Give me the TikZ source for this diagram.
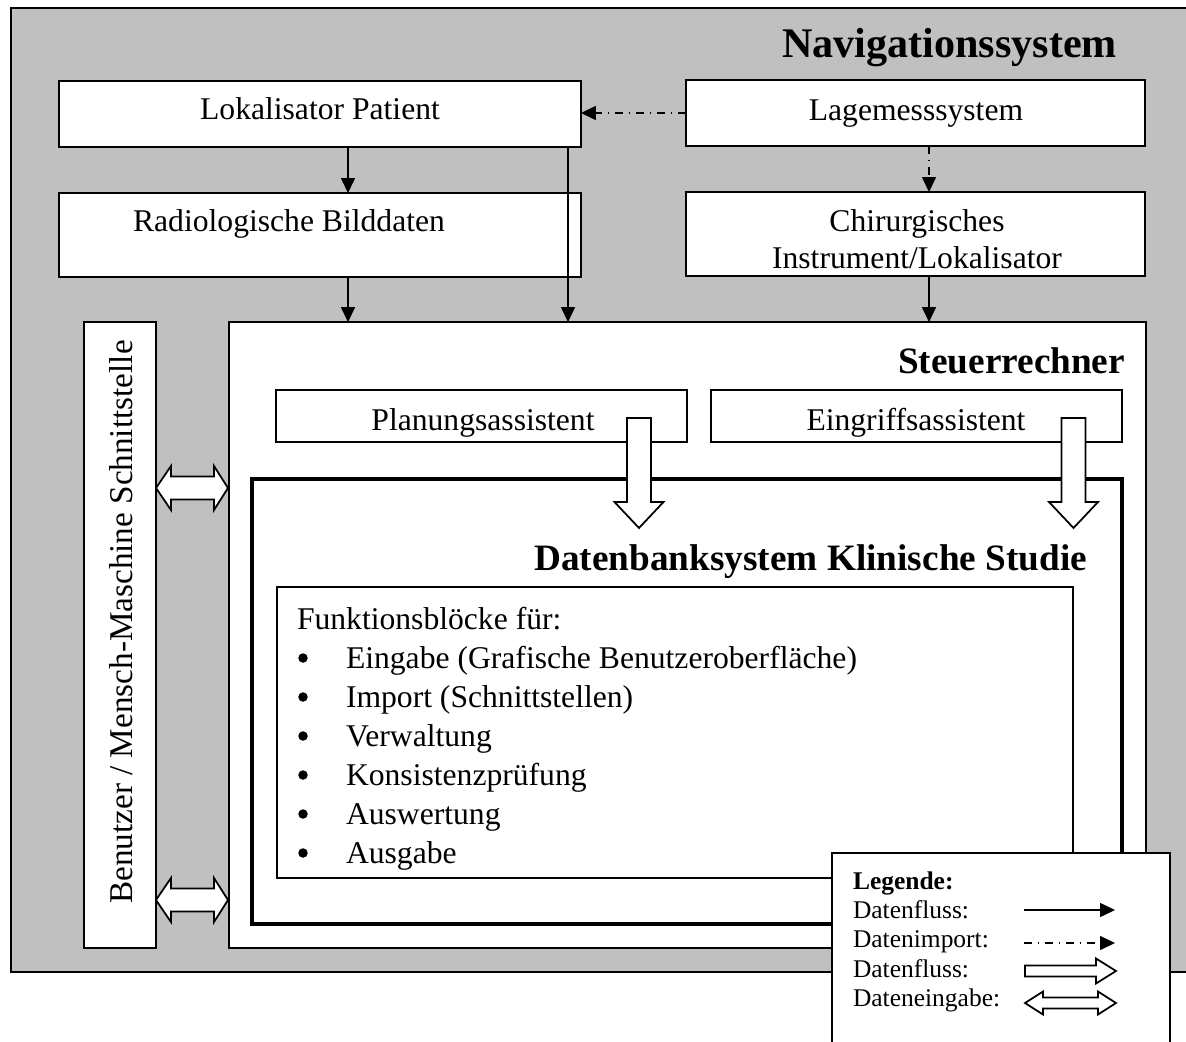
\documentclass[tikz,border=0pt]{standalone}
\usepackage{fontspec}
\setmainfont{Liberation Serif}
\usetikzlibrary{arrows.meta,calc}
\newcommand{\navfont}{\fontsize{18}{21}\selectfont}
\newcommand{\navtitlefont}{\fontsize{24}{28}\selectfont\bfseries}
\newcommand{\navheadfont}{\fontsize{21.2}{25}\selectfont\bfseries}
\newcommand{\navlegfont}{\fontsize{14.5}{16}\selectfont}
\begin{document}
\begin{tikzpicture}[x=0.02cm, y=-0.02cm,
  every node/.style={font=\navfont, inner sep=0pt, outer sep=0pt},
  box/.style={draw, line width=1pt, fill=white},
  flow/.style={line width=0.6pt, -{Triangle[length=8.5pt,width=8pt]}},
  dimport/.style={flow, dash pattern=on 4.5pt off 3.4pt on 0.6pt off 3.4pt},
  block/.style={draw, line width=1pt, fill=white, line join=miter},
  bullet/.style={circle, fill=black, minimum size=0.19cm}]
\definecolor{navgray}{RGB}{192,192,192}
\useasboundingbox (0,0) rectangle (1186,1041);
% Navigationssystem frame
\node[box, fill=navgray, minimum width=23.52cm, minimum height=19.28cm] (nav) at (599,490) {};
\node[font=\navtitlefont, anchor=base east] (navtitle) at (1117,57) {Navigationssystem};
% Upper blocks
\node[box, minimum width=10.44cm, minimum height=1.32cm] (lokpat) at (320,114) {};
\node[anchor=base] (lokpattext) at (320,119) {Lokalisator Patient};
\node[box, minimum width=9.18cm, minimum height=1.32cm] (lagemess) at (915.5,113) {};
\node[anchor=base] (lagemesstext) at (916,120) {Lagemesssystem};
\node[box, minimum width=10.44cm, minimum height=1.68cm] (radio) at (320,235) {};
\node[anchor=base] (radiotext) at (289,231) {Radiologische Bilddaten};
\node[box, minimum width=9.18cm, minimum height=1.68cm] (chir) at (915.5,234) {};
\node[align=center] (chirtext) at (917,239) {Chirurgisches\\Instrument/Lokalisator};
% Steuerrechner and user interface
\node[box, minimum width=18.34cm, minimum height=12.52cm] (steuer) at (687.5,635) {};
\node[font=\navheadfont, anchor=base east] (steuertitle) at (1125,373) {Steuerrechner};
\node[box, minimum width=1.44cm, minimum height=12.52cm] (hmi) at (120,635) {};
\node[rotate=90, font=\fontsize{18.9}{22}\selectfont] (hmitext) at (121,622) {Benutzer / Mensch-Maschine Schnittstelle};
% Assistants (text cut at the lower border)
\node[box, minimum width=8.22cm, minimum height=1.04cm] (plan) at (481.5,416) {};
\node[box, minimum width=8.22cm, minimum height=1.04cm] (eingriff) at (916.5,416) {};
\begin{scope}
  \clip (plan.south west) rectangle (plan.north east);
  \node[anchor=base] (plantext) at (483,430) {Planungsassistent};
\end{scope}
\begin{scope}
  \clip (eingriff.south west) rectangle (eingriff.north east);
  \node[anchor=base] (eingrifftext) at (916,430) {Eingriffsassistent};
\end{scope}
% Datenbanksystem
\node[box, line width=2.4pt, minimum width=17.4cm, minimum height=8.9cm] (dbs) at (687,701.5) {};
\node[font=\navheadfont, anchor=base east] (dbstitle) at (1087,570) {Datenbanksystem Klinische Studie};
\node[box, minimum width=15.92cm, minimum height=5.82cm] (funk) at (675,732.5) {};
\node[anchor=base west] (funktitle) at (297,629) {Funktionsblöcke für:};
\foreach \entry [count=\i] in {Eingabe (Grafische Benutzeroberfläche), Import (Schnittstellen),
  Verwaltung, Konsistenzprüfung, Auswertung, Ausgabe} {
  \node[bullet] (bul\i) at (303,{619+\i*39}) {};
  \node[anchor=base west] (entry\i) at (346,{629+\i*39}) {\entry};
}
% Data flow
\draw[dimport] (lagemess.west) -- (lagemess.west -| lokpat.east);
\draw[flow] ($(lokpat.south)+(28,0)$) -- ($(radio.north)+(28,0)$);
\draw[dimport] ($(lagemess.south)+(13.5,0)$) -- ($(chir.north)+(13.5,0)$);
\coordinate (radioout) at ($(radio.south)+(28,0)$);
\coordinate (lokpatout) at ($(lokpat.south)+(248,0)$);
\coordinate (chirout) at ($(chir.south)+(13.5,0)$);
\draw[flow] (radioout) -- (radioout |- steuer.north);
\draw[flow] (lokpatout) -- (lokpatout |- steuer.north);
\draw[flow] (chirout) -- (chirout |- steuer.north);
% Block arrows into the database
\foreach \cx in {639,1073.5} {
  \draw[block] ({\cx-12},418) -- ({\cx+12},418) -- ({\cx+12},502) -- ({\cx+24.5},502)
    -- (\cx,528) -- ({\cx-24.5},502) -- ({\cx-12},502) -- cycle;
}
% Data input from the user
\foreach \cy in {488,900} {
  \draw[block] (156,\cy) -- (171,{\cy-22}) -- (171,{\cy-11.5}) -- (214,{\cy-11.5})
    -- (214,{\cy-22}) -- (228,\cy) -- (214,{\cy+22}) -- (214,{\cy+11.5})
    -- (171,{\cy+11.5}) -- (171,{\cy+22}) -- cycle;
}
% Legend
\node[box, minimum width=6.76cm, minimum height=3.84cm] (legend) at (1001,949) {};
\node[font=\navlegfont\bfseries, anchor=base west] (legtitle) at (853,889) {Legende:};
\foreach \name/\yb [count=\i] in {Datenfluss:/918, Datenimport:/947, Datenfluss:/977, Dateneingabe:/1006} {
  \node[font=\navlegfont, anchor=base west] (leg\i) at (853,\yb) {\name};
}
\coordinate (legflow) at (1024,910);
\coordinate (legimport) at (1024,943);
\draw[flow] (legflow) -- ++(91,0);
\draw[dimport] (legimport) -- ++(91,0);
\draw[block] (1025,965.5) -- ++(71,0) -- ++(0,-7) -- ++(20,12.5) -- ++(-20,12.5)
  -- ++(0,-7) -- ++(-71,0) -- cycle;
\draw[block] (1025,1003) -- ++(18,-11.5) -- ++(0,6) -- ++(55,0) -- ++(0,-6)
  -- ++(18,11.5) -- ++(-18,11.5) -- ++(0,-6) -- ++(-55,0) -- ++(0,6) -- cycle;
\end{tikzpicture}
\end{document}
